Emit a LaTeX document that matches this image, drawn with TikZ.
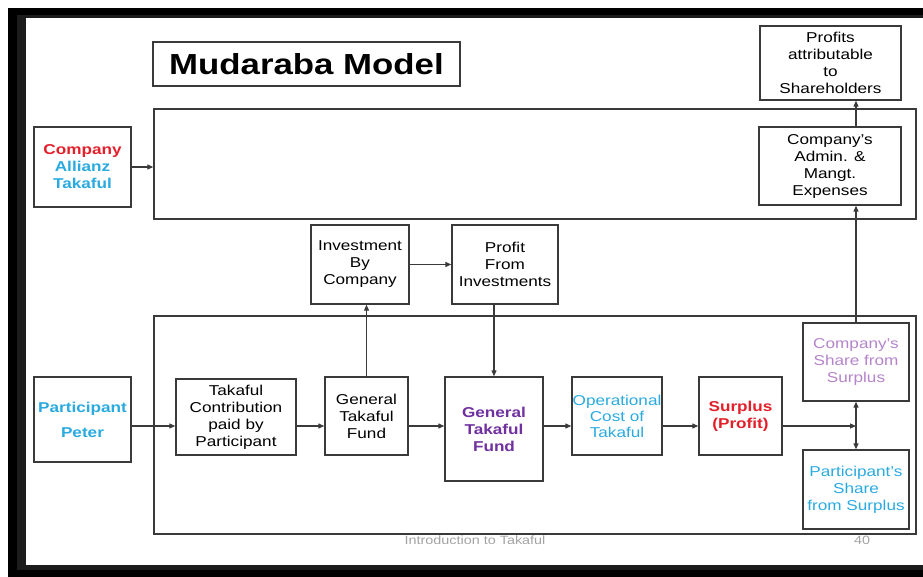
\documentclass[tikz,border=0pt]{standalone}
\usepackage{fontspec}
\setmainfont{Liberation Sans}[FakeStretch=1.2]
\usetikzlibrary{arrows.meta}
\definecolor{ink}{HTML}{3A3A3A}
\definecolor{darkband}{HTML}{1C1C1C}
\definecolor{mred}{HTML}{E3202A}
\definecolor{mcyan}{HTML}{2AAAE0}
\definecolor{mpurple}{HTML}{7030A0}
\definecolor{mlilac}{HTML}{B584CA}
\definecolor{mgray}{HTML}{A3A3A3}
\begin{document}
\begin{tikzpicture}[x=1pt,y=-1pt,
  box/.style={draw=ink, line width=1.4pt, fill=white, inner sep=0pt, align=center,
    font=\fontsize{14.3}{17}\selectfont},
  frame/.style={draw=ink, line width=1.4pt, inner sep=0pt},
  flow/.style={draw=ink, line width=1.2pt, -{Triangle[length=6pt,width=5pt]}}]

\useasboundingbox (0,0) rectangle (923,577);

% dark slide border
\fill[black] (8,8) rectangle (923,18);
\fill[black] (8,8) rectangle (17,577);
\fill[black] (8,565) rectangle (923,577);
\fill[darkband] (17,15) rectangle (26,570);
\fill[darkband] (17,15) rectangle (923,18);
\fill[darkband] (17,565) rectangle (923,570);

% outer grouping frames
\node[frame, minimum width=762, minimum height=110] (topbox) at (535,164) {};
\node[frame, minimum width=762, minimum height=218] (botbox) at (535,425) {};

% title
\node[box, minimum width=307, minimum height=44, font=\fontsize{29}{34}\selectfont\bfseries]
  (title) at (306.5,64) {Mudaraba Model};

% company side
\node[box, minimum width=141, minimum height=74] (profits) at (830.5,63)
  {Profits\\attributable\\to\\Shareholders};
\node[box, minimum width=142, minimum height=78] (admin) at (830,166)
  {Company's\\Admin. \&\\Mangt.\\Expenses};
\node[box, minimum width=97, minimum height=80, font=\fontsize{14.3}{17}\selectfont\bfseries]
  (company) at (82.5,167)
  {\textcolor{mred}{Company}\\\textcolor{mcyan}{Allianz}\\\textcolor{mcyan}{Takaful}};

% investment loop
\node[box, minimum width=98, minimum height=79] (invest) at (360,264.5)
  {Investment\\By\\Company};
\node[box, minimum width=106, minimum height=79] (profinv) at (505,264.5)
  {Profit\\From\\Investments};

% participant flow
\node[box, minimum width=97, minimum height=85, font=\fontsize{14.3}{17}\selectfont\bfseries\color{mcyan}]
  (peter) at (82.5,419.5) {Participant\\[8pt]Peter};
\node[box, minimum width=120, minimum height=76] (contrib) at (236,417)
  {Takaful\\Contribution\\paid by\\Participant};
\node[box, minimum width=83, minimum height=78] (gtf) at (366.5,416)
  {General\\Takaful\\Fund};
\node[box, minimum width=98, minimum height=104, font=\fontsize{14.3}{17}\selectfont\bfseries\color{mpurple}]
  (gtfb) at (494,429) {General\\Takaful\\Fund};
\node[box, minimum width=90, minimum height=78, font=\fontsize{14.3}{16}\selectfont\color{mcyan}]
  (opcost) at (617,416) {Operational\\Cost of\\Takaful};
\node[box, minimum width=83, minimum height=78, font=\fontsize{14.3}{17}\selectfont\bfseries\color{mred}]
  (surplus) at (740.5,416) {Surplus\\(Profit)};
\node[box, minimum width=106, minimum height=78, font=\fontsize{14.3}{17}\selectfont\color{mlilac}]
  (compshare) at (856,362) {Company's\\Share from\\Surplus};
\node[box, minimum width=106, minimum height=79, font=\fontsize{14.3}{17}\selectfont\color{mcyan}]
  (partshare) at (856,489.5) {Participant's\\Share\\from Surplus};

% level of the main flow line and the split point
\coordinate (flowline) at (0,426);
\coordinate (split) at (compshare.south |- flowline);

% connectors
\draw[flow] (company.east) -- (topbox.west |- company.east);
\draw[flow] (peter.east |- flowline) -- (contrib.west |- flowline);
\draw[flow] (contrib.east |- flowline) -- (gtf.west |- flowline);
\draw[flow] (gtf.east |- flowline) -- (gtfb.west |- flowline);
\draw[flow] (gtfb.east |- flowline) -- (opcost.west |- flowline);
\draw[flow] (opcost.east |- flowline) -- (surplus.west |- flowline);
\draw[flow] (surplus.east |- flowline) -- (split);
\draw[flow] (split) -- (compshare.south);
\draw[flow] (split) -- (partshare.north);
\draw[flow] (gtf.north) -- (gtf.north |- invest.south);
\draw[flow] (invest.east) -- (profinv.west);
\draw[flow] (gtfb.north |- profinv.south) -- (gtfb.north);
\draw[flow] (compshare.north) -- (compshare.north |- admin.south);
\draw[flow] (compshare.north |- admin.north) -- (compshare.north |- profits.south);

% slide footer
\node[mgray, font=\fontsize{12}{14}\selectfont] (footer) at (475,540) {Introduction to Takaful};
\node[mgray, font=\fontsize{12}{14}\selectfont] (pageno) at (862,540) {40};
\end{tikzpicture}
\end{document}
